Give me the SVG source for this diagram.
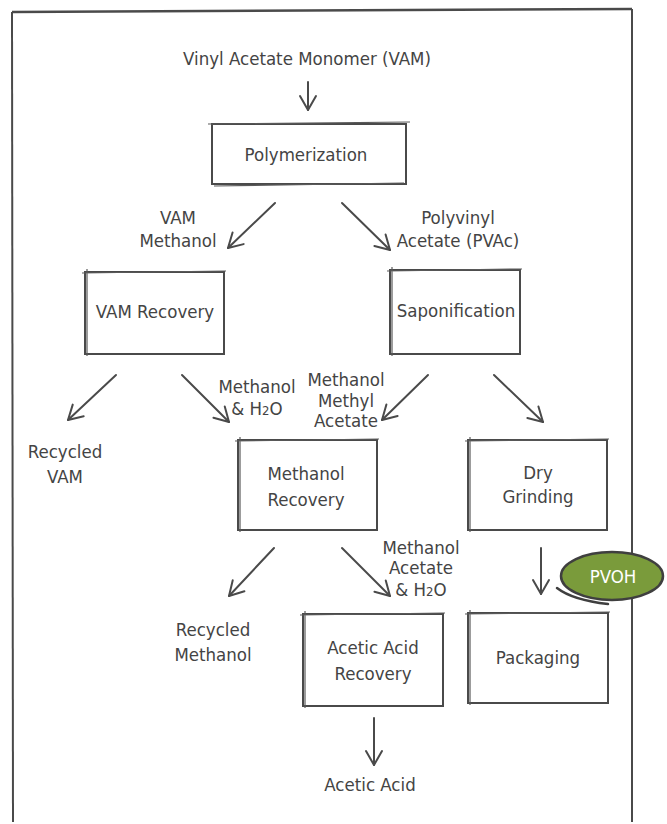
<svg xmlns="http://www.w3.org/2000/svg" width="667" height="824" viewBox="0 0 667 824">
<defs>
<marker id="ah" viewBox="0 0 20 20" refX="16" refY="10" markerWidth="20" markerHeight="20" markerUnits="userSpaceOnUse" orient="auto">
<path d="M2,2 L16,10 L2,18" fill="none" stroke="#4a4a4a" stroke-width="2" stroke-linecap="round" stroke-linejoin="round"/>
</marker>
</defs>
<style>
text{font-family:"DejaVu Sans Condensed","DejaVu Sans",sans-serif;font-size:18.5px;fill:#444444;text-anchor:middle}
.box{fill:none;stroke:#4a4a4a;stroke-width:2}
.sk{fill:none;stroke:#5a5a5a;stroke-width:1.2}
.c{fill:none;stroke:#4a4a4a;stroke-width:2;stroke-linecap:round;marker-end:url(#ah)}
.sub{font-size:13px}
</style>
<rect x="0" y="0" width="667" height="824" fill="#ffffff"/>
<g id="frame">
<path d="M12,12 L632,9" fill="none" stroke="#4a4a4a" stroke-width="2.5"/>
<path d="M12,12 L13,822" fill="none" stroke="#4a4a4a" stroke-width="2"/>
<path d="M632,9 L632,822" fill="none" stroke="#4a4a4a" stroke-width="2"/>
</g>
<g id="connectors">
<path class="c" d="M308,82 L308,110"/>
<path class="c" d="M275,203 L228,248"/>
<path class="c" d="M342,203 L390,250"/>
<path class="c" d="M116,375 L68,420"/>
<path class="c" d="M182,375 L229,422"/>
<path class="c" d="M428,375 L382,420"/>
<path class="c" d="M494,375 L543,422"/>
<path class="c" d="M274,548 L229,596"/>
<path class="c" d="M342,548 L390,596"/>
<path class="c" d="M541,548 L541,594"/>
<path class="c" d="M374,718 L374,765"/>
</g>
<g id="vam-label"><text x="307" y="65">Vinyl Acetate Monomer (VAM)</text></g>
<g id="polymerization">
<rect class="box" x="212" y="124" width="194" height="60"/>
<path class="sk" d="M208,124 L410,122 M214,186 L404,183"/>
<text x="306" y="161">Polymerization</text>
</g>
<g id="lbl-vam-methanol"><text x="178" y="224">VAM</text><text x="178" y="247">Methanol</text></g>
<g id="lbl-pvac"><text x="458" y="224">Polyvinyl</text><text x="458" y="247">Acetate (PVAc)</text></g>
<g id="vam-recovery">
<rect class="box" x="85" y="272" width="139" height="82"/>
<path class="sk" d="M87,269 L87,356 M82,273 L226,271"/>
<text x="155" y="318">VAM Recovery</text>
</g>
<g id="saponification">
<rect class="box" x="390" y="270" width="130" height="84"/>
<path class="sk" d="M392,267 L392,356 M387,271 L522,269"/>
<text x="456" y="317">Saponification</text>
</g>
<g id="lbl-meth-h2o"><text x="257" y="393">Methanol</text><text x="257" y="415">&amp; H<tspan class="sub">2</tspan>O</text></g>
<g id="lbl-recycled-vam"><text x="65" y="458">Recycled</text><text x="65" y="483">VAM</text></g>
<g id="lbl-meth-ma"><text x="346" y="386">Methanol</text><text x="346" y="407">Methyl</text><text x="346" y="427">Acetate</text></g>
<g id="methanol-recovery">
<rect class="box" x="238" y="440" width="139" height="90"/>
<path class="sk" d="M240,437 L240,532 M235,441 L379,439"/>
<text x="306" y="480">Methanol</text><text x="306" y="506">Recovery</text>
</g>
<g id="dry-grinding">
<rect class="box" x="468" y="440" width="139" height="90"/>
<path class="sk" d="M470,437 L470,532 M465,441 L609,439"/>
<text x="538" y="479">Dry</text><text x="538" y="503">Grinding</text>
</g>
<g id="lbl-meth-ac-h2o"><text x="421" y="554">Methanol</text><text x="421" y="574">Acetate</text><text x="421" y="596">&amp; H<tspan class="sub">2</tspan>O</text></g>
<g id="lbl-recycled-meth"><text x="213" y="636">Recycled</text><text x="213" y="661">Methanol</text></g>
<g id="acetic-acid-recovery">
<rect class="box" x="303" y="614" width="140" height="92"/>
<path class="sk" d="M305,611 L305,708 M300,615 L445,613"/>
<text x="373" y="654">Acetic Acid</text><text x="373" y="680">Recovery</text>
</g>
<g id="packaging">
<rect class="box" x="468" y="613" width="140" height="90"/>
<path class="sk" d="M470,610 L470,705 M465,614 L610,612"/>
<text x="538" y="664">Packaging</text>
</g>
<g id="pvoh">
<ellipse cx="612" cy="576" rx="51" ry="24" fill="#7a9b3b" stroke="#3f3f3f" stroke-width="2.5"/>
<path d="M557,588 C570,598 590,602 608,604" fill="none" stroke="#3f3f3f" stroke-width="2.5" stroke-linecap="round"/>
<text x="613" y="583" style="fill:#ffffff">PVOH</text>
</g>
<g id="lbl-acetic-acid"><text x="370" y="791">Acetic Acid</text></g>
</svg>
